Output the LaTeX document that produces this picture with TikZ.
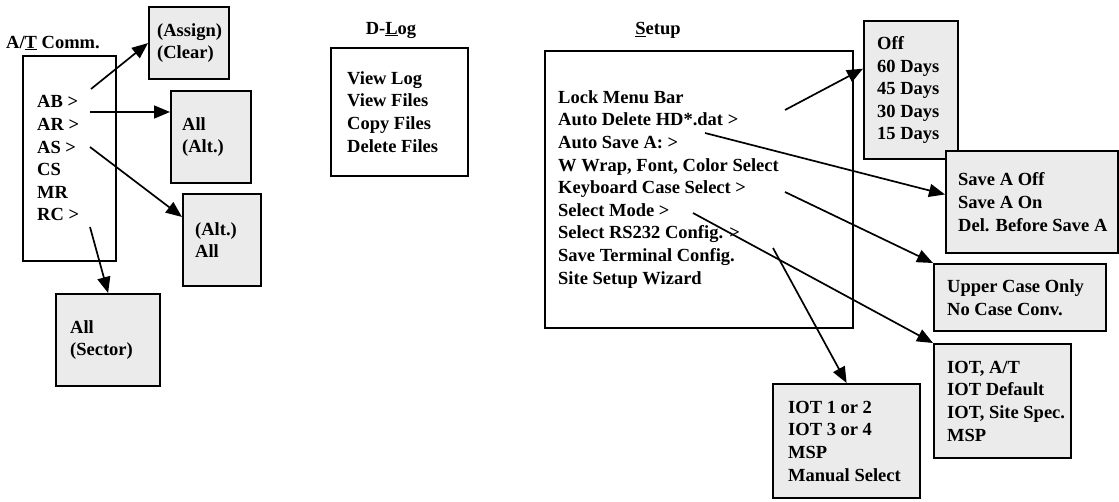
\documentclass[tikz,border=0pt]{standalone}
\usepackage{fontspec}
\setmainfont{Liberation Serif}
\usetikzlibrary{arrows.meta, positioning}

\begin{document}
\begin{tikzpicture}[x=1pt, y=-1pt,
  menubox/.style={rectangle, draw=black, line width=1.6pt, fill=white,
                  anchor=north west, inner sep=0pt},
  pickbox/.style={menubox, fill=black!8, line width=2.2pt},
  items/.style={align=left, inner sep=0pt,
                font=\bfseries\fontsize{18.5}{22.6}\selectfont},
  head/.style={inner sep=0pt, font=\bfseries\fontsize{18.5}{22}\selectfont},
  arr/.style={-{Triangle[length=16pt, width=13pt]}, line width=1.7pt}
]
\useasboundingbox (0,0) rectangle (1119,502);

\node[head] (atlabel) at (53,43) {A/\underline{T} Comm.};
\node[head] (dloglabel) at (391,30) {D-\underline{L}og};
\node[head] (setuplabel) at (658,30) {\underline{S}etup};

\node[menubox, minimum width=93, minimum height=205] (atbox) at (22,55) {};
\node[items, right=15pt of atbox.west] (attext)
  {AB >\\AR >\\AS >\\CS\\MR\\RC >};

\node[menubox, minimum width=137, minimum height=128] (dlogbox) at (330,47) {};
\node[items, right=17pt of dlogbox.west] (dlogtext)
  {View Log\\View Files\\Copy Files\\Delete Files};

\node[menubox, minimum width=308, minimum height=277] (setupbox) at (544,50) {};
\node[items, right=14pt of setupbox.west] (setuptext)
  {Lock Menu Bar\\Auto Delete HD*.dat >\\Auto Save A: >\\W Wrap, Font, Color Select\\
   Keyboard Case Select >\\Select Mode >\\Select RS232 Config. >\\
   Save Terminal Config.\\Site Setup Wizard};

\node[pickbox, minimum width=80, minimum height=72] (assign) at (148,6) {};
\node[items, right=9pt of assign.west] (assigntext) {(Assign)\\(Clear)};

\node[pickbox, minimum width=80, minimum height=92] (allalt) at (170,90) {};
\node[items, right=12pt of allalt.west] (allalttext) {All\\(Alt.)};

\node[pickbox, minimum width=78, minimum height=92] (altall) at (182,193) {};
\node[items, right=13pt of altall.west] (altalltext) {(Alt.)\\All};

\node[pickbox, minimum width=104, minimum height=92] (sector) at (55,293) {};
\node[items, right=15pt of sector.west] (sectortext) {All\\(Sector)};

\node[pickbox, minimum width=94, minimum height=138] (days) at (863,20) {};
\node[items, right=14pt of days.west] (daystext)
  {Off\\60 Days\\45 Days\\30 Days\\15 Days};

\node[pickbox, minimum width=172, minimum height=102] (savea) at (945,150) {};
\node[items, right=13pt of savea.west] (saveatext)
  {Save A Off\\Save A On\\Del. Before Save A};

\node[pickbox, minimum width=172, minimum height=67] (upper) at (933,263) {};
\node[items, right=14pt of upper.west] (uppertext)
  {Upper Case Only\\No Case Conv.};

\node[pickbox, minimum width=137, minimum height=114] (iotat) at (933,343) {};
\node[items, right=14pt of iotat.west] (iotattext)
  {IOT, A/T\\IOT Default\\IOT, Site Spec.\\MSP};

\node[pickbox, minimum width=147, minimum height=114] (iotmode) at (772,383) {};
\node[items, right=16pt of iotmode.west] (iotmodetext)
  {IOT 1 or 2\\IOT 3 or 4\\MSP\\Manual Select};

\coordinate (ab) at (91,89);
\coordinate (ar) at (90,112);
\coordinate (as) at (90,147);
\coordinate (rc) at (90,227);
\coordinate (autodel) at (785,110);
\coordinate (autosave) at (705,133);
\coordinate (keycase) at (785,192);
\coordinate (selmode) at (693,213);
\coordinate (rsconf) at (773,248);

\draw[arr] (ab) -- (assign.west);
\draw[arr] (ar) -- (ar -| allalt.west);
\draw[arr] (as) -- (altall.150);
\draw[arr] (rc) -- (sector.north);
\draw[arr] (autodel) -- (days.156);
\draw[arr] (autosave) -- (savea.175);
\draw[arr] (keycase) -- (upper.north west);
\draw[arr] (selmode) -- (iotat.north west);
\draw[arr] (rsconf) -- (iotmode.north);
\end{tikzpicture}
\end{document}
